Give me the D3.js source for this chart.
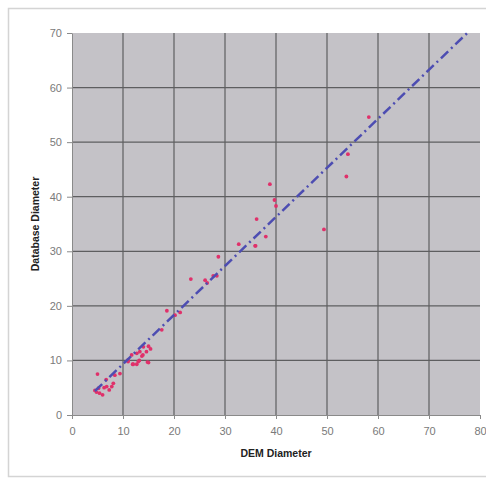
<!DOCTYPE html>
<html>
<head>
<meta charset="utf-8">
<script src="https://cdn.jsdelivr.net/npm/d3@7"></script>
<style>
  body { margin: 0; background: #fff; }
  svg { display: block; font-family: Arial, "Liberation Sans", sans-serif; }
</style>
</head>
<body>
<svg id="chart" width="486" height="479"></svg>
<script>
// DEM diameter vs database diameter
const demDiameter = [4.5, 5.2, 5.4, 6.0, 6.8, 7.3, 7.8, 8.1, 8.4, 9.4, 5.0, 6.7,
  11.0, 11.9, 12.7, 13.2, 13.7, 15.0, 15.4, 14.6, 13.9, 11.7, 12.7, 13.3, 14.0,
  15.0, 14.8, 13.0, 12.0, 11.0, 17.6, 18.6, 20.2, 21.2, 23.3, 26.1, 26.5, 27.7,
  28.4, 28.7, 32.7, 36.0, 35.9, 38.0, 36.2, 38.8, 39.7, 40.0, 49.4, 53.8, 54.1, 58.2, 4.8, 6.3]
const dbDiameter = [4.5, 4.9, 4.0, 3.7, 5.2, 4.6, 5.2, 5.8, 7.3, 7.6, 7.5, 6.5,
  10.1, 9.3, 9.3, 10.0, 10.8, 9.6, 12.1, 11.6, 11.0, 11.0, 11.3, 11.6, 12.5,
  12.6, 9.7, 9.8, 9.3, 9.8, 15.6, 19.1, 18.3, 18.8, 24.9, 24.7, 24.2, 25.5,
  25.5, 29.0, 31.3, 31.0, 31.0, 32.7, 35.9, 42.3, 39.4, 38.3, 34.0, 43.7, 47.8, 54.6, 4.2, 5.0]
// fitted line end points
const fitX = [4.5, 77.5]
const fitY = [4.4, 70]

const xTicks = [0, 10, 20, 30, 40, 50, 60, 70, 80]
const yTicks = [0, 10, 20, 30, 40, 50, 60, 70]

const plot = {left: 72, right: 480, top: 33, bottom: 415}

const svg = d3.select("#chart")

// outer frame
svg.append("rect")
   .attr("x", 8.5).attr("y", 8.5)
   .attr("width", 490).attr("height", 468)
   .attr("fill", "#fff")
   .attr("stroke", "#d4d4d4")
   .attr("stroke-width", 1.5)

const xScale = d3.scaleLinear().domain([0, 80]).range([plot.left, plot.right])
const yScale = d3.scaleLinear().domain([0, 70]).range([plot.bottom, plot.top])

svg.append("rect")
   .attr("x", plot.left).attr("y", plot.top)
   .attr("width", plot.right - plot.left).attr("height", plot.bottom - plot.top)
   .attr("fill", "#c4c2c7")

// grid (no lines on the plot edges)
const grid = svg.append("g").attr("stroke", "#5e5e60").attr("stroke-width", 1.2)
grid.selectAll(".gx").data(xTicks.slice(1, -1)).join("line")
    .attr("x1", d => xScale(d)).attr("x2", d => xScale(d))
    .attr("y1", plot.top).attr("y2", plot.bottom)
grid.selectAll(".gy").data(yTicks.slice(1, -1)).join("line")
    .attr("y1", d => yScale(d)).attr("y2", d => yScale(d))
    .attr("x1", plot.left).attr("x2", plot.right)

const xAxis = d3.axisBottom(xScale).tickValues(xTicks).tickSize(4).tickSizeOuter(0)
const yAxis = d3.axisLeft(yScale).tickValues(yTicks).tickSize(5).tickSizeOuter(0)

const xAxisSVG = svg.append("g")
   .attr("transform", `translate(0, ${plot.bottom})`)
   .call(xAxis)
xAxisSVG.selectAll(".tick line, .domain").attr("stroke", "#8a8a8a")
xAxisSVG.selectAll(".tick text").attr("fill", "#7a7a7a").attr("font-size", 11)
   .attr("font-family", "Arial, 'Liberation Sans', sans-serif").attr("dy", "1.2em")

const yAxisSVG = svg.append("g")
   .attr("transform", `translate(${plot.left}, 0)`)
   .call(yAxis)
yAxisSVG.selectAll(".tick line, .domain").attr("stroke", "#8a8a8a")
yAxisSVG.selectAll(".tick text").attr("fill", "#7a7a7a").attr("font-size", 11)
   .attr("font-family", "Arial, 'Liberation Sans', sans-serif").attr("x", -10)

// points
svg.append("g").selectAll("circle").data(demDiameter).join("circle")
   .attr("cx", d => xScale(d))
   .attr("cy", (d, i) => yScale(dbDiameter[i]))
   .attr("r", 1.9)
   .attr("fill", "#e0306a")

// trend line
svg.append("line")
   .attr("x1", xScale(fitX[0])).attr("y1", yScale(fitY[0]))
   .attr("x2", xScale(fitX[1])).attr("y2", yScale(fitY[1]))
   .attr("stroke", "#4d4db2")
   .attr("stroke-width", 2.5)
   .attr("stroke-dasharray", "10,4,2,4")

// labels
svg.append("text")
   .text("DEM Diameter")
   .attr("x", 276).attr("y", 457)
   .attr("text-anchor", "middle")
   .attr("font-size", 10.5).attr("font-weight", "bold")
   .attr("fill", "#222")
svg.append("text")
   .text("Database Diameter")
   .attr("transform", "translate(39, 224) rotate(-90)")
   .attr("text-anchor", "middle")
   .attr("font-size", 10.5).attr("font-weight", "bold")
   .attr("fill", "#222")
</script>
</body>
</html>
